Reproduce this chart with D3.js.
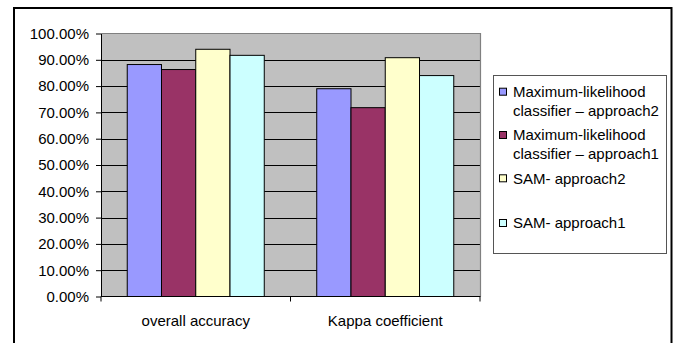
<!DOCTYPE html>
<html>
<head>
<meta charset="utf-8">
<script src="https://cdn.jsdelivr.net/npm/d3@7"></script>
<style>
  html, body { margin: 0; padding: 0; background: #fff; }
  svg { display: block; }
  text { font-family: "Liberation Sans", Arial, sans-serif; fill: #000; }
</style>
</head>
<body>
<svg id="chart" width="675" height="343"></svg>
<script>
// Categories, series and values
const categories = ["overall accuracy", "Kappa coefficient"];
const seriesNames = [
  "Maximum-likelihood classifier \u2013 approach2",
  "Maximum-likelihood classifier \u2013 approach1",
  "SAM- approach2",
  "SAM- approach1"
];
const legendLines = [
  ["Maximum-likelihood", "classifier \u2013 approach2"],
  ["Maximum-likelihood", "classifier \u2013 approach1"],
  ["SAM- approach2"],
  ["SAM- approach1"]
];
const seriesColors = ["#9999FF", "#993366", "#FFFFCC", "#CCFFFF"];
const overallAccuracy = [0.882, 0.863, 0.940, 0.917];
const kappaCoefficient = [0.790, 0.718, 0.908, 0.840];
const yTicks = [0, 0.1, 0.2, 0.3, 0.4, 0.5, 0.6, 0.7, 0.8, 0.9, 1.0];

const valuesByCategory = [overallAccuracy, kappaCoefficient];

const svg = d3.select("#chart");

// Chart frame
svg.append("rect")
  .attr("x", 14).attr("y", 8)
  .attr("width", 657.5).attr("height", 345)
  .attr("fill", "#fff").attr("stroke", "#000").attr("stroke-width", 2);

const plot = { left: 101, right: 480, top: 33.5, bottom: 296.5 };

const x0 = d3.scaleBand()
  .domain(categories)
  .range([plot.left, plot.right])
  .padding(0);

const x1 = d3.scaleBand()
  .domain(seriesNames)
  .range([0, x0.bandwidth()])
  .paddingInner(0)
  .paddingOuter(0.766);

const y = d3.scaleLinear()
  .domain([0, 1])
  .range([plot.bottom, plot.top]);

// Plot area background
svg.append("rect")
  .attr("x", plot.left).attr("y", plot.top)
  .attr("width", plot.right - plot.left).attr("height", plot.bottom - plot.top)
  .attr("fill", "#C0C0C0");

// Gridlines
svg.append("g")
  .selectAll("line")
  .data(yTicks.filter(t => t > 0 && t < 1))
  .join("line")
  .attr("x1", plot.left).attr("x2", plot.right)
  .attr("y1", d => Math.round(y(d)) + 0.5).attr("y2", d => Math.round(y(d)) + 0.5)
  .attr("stroke", "#000").attr("stroke-width", 1);

// Plot area top and right borders
svg.append("path")
  .attr("d", `M${plot.left},${plot.top}H${plot.right + 0.5}V${plot.bottom}`)
  .attr("fill", "none").attr("stroke", "#808080").attr("stroke-width", 1.2);

// Bars
const groups = svg.append("g")
  .selectAll("g")
  .data(categories)
  .join("g")
  .attr("transform", d => `translate(${x0(d)},0)`);

groups.selectAll("rect")
  .data((c, i) => seriesNames.map((s, j) => ({ s, j, v: valuesByCategory[i][j] })))
  .join("rect")
  .attr("x", d => x1(d.s))
  .attr("y", d => y(d.v))
  .attr("width", x1.bandwidth())
  .attr("height", d => y(0) - y(d.v))
  .attr("fill", d => seriesColors[d.j])
  .attr("stroke", "#000")
  .attr("stroke-width", 1);

// Y axis
const yAxis = d3.axisLeft(y)
  .tickValues(yTicks)
  .tickFormat(d3.format(".2%"))
  .tickSize(5)
  .tickSizeOuter(0)
  .tickPadding(7);

const yg = svg.append("g")
  .attr("transform", `translate(${plot.left},0)`)
  .call(yAxis);
yg.select(".domain").attr("stroke", "#000");
yg.selectAll(".tick line").attr("stroke", "#000");
yg.selectAll(".tick text")
  .style("font-size", "15px")
  .attr("fill", "#000");

// X axis
const xg = svg.append("g")
  .attr("transform", `translate(0,${plot.bottom})`);
xg.append("line")
  .attr("x1", plot.left).attr("x2", plot.right + 0.5)
  .attr("y1", 0).attr("y2", 0)
  .attr("stroke", "#000");
xg.selectAll("line.tick")
  .data(categories.concat([null]))
  .join("line")
  .attr("class", "tick")
  .attr("x1", d => d === null ? plot.right : x0(d))
  .attr("x2", d => d === null ? plot.right : x0(d))
  .attr("y1", 0).attr("y2", 5)
  .attr("stroke", "#000");
xg.selectAll("text")
  .data(categories)
  .join("text")
  .attr("x", d => x0(d) + x0.bandwidth() / 2)
  .attr("y", 29)
  .attr("text-anchor", "middle")
  .style("font-size", "15px")
  .text(d => d);

// Legend
const legend = svg.append("g");
legend.append("rect")
  .attr("x", 493.5).attr("y", 75.5)
  .attr("width", 173).attr("height", 178)
  .attr("fill", "#fff").attr("stroke", "#555").attr("stroke-width", 1);

const entryY = [91.7, 135, 178.3, 223];
const items = legend.selectAll("g.item")
  .data(seriesNames)
  .join("g")
  .attr("class", "item")
  .attr("transform", (d, i) => `translate(0,${entryY[i]})`);

items.append("rect")
  .attr("x", 499.5).attr("y", -3.5)
  .attr("width", 7).attr("height", 7)
  .attr("fill", (d, i) => seriesColors[i])
  .attr("stroke", "#000").attr("stroke-width", 1);

items.append("text")
  .attr("x", 513)
  .attr("y", 0)
  .style("font-size", "15px")
  .selectAll("tspan")
  .data((d, i) => legendLines[i])
  .join("tspan")
  .attr("x", 513)
  .attr("dy", (d, k) => k === 0 ? "0.35em" : "19px")
  .text(d => d);
</script>
</body>
</html>
